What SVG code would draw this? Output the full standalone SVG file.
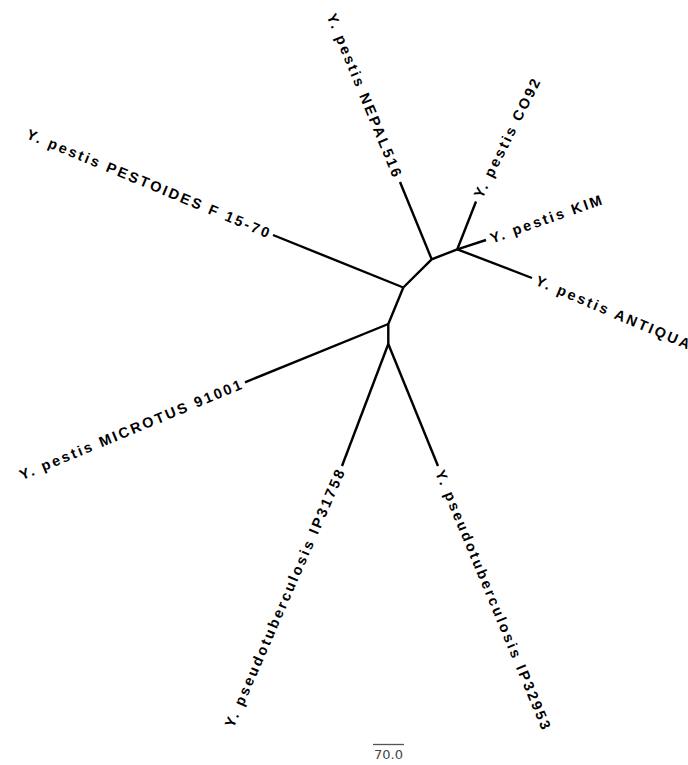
<svg xmlns="http://www.w3.org/2000/svg" width="688" height="765" viewBox="0 0 688 765">
<style>
.br{stroke:#000;stroke-width:2.4;fill:none;stroke-linecap:butt}
.lb{font-family:"Liberation Sans",Arial,sans-serif;font-weight:bold;font-size:14.5px;letter-spacing:2.4px;fill:#000}
.sc{font-family:"DejaVu Sans",sans-serif;font-size:13px;fill:#444}
</style>
<rect width="688" height="765" fill="#fff"/>
<g id="connectors">
<path class="br" d="M403.3,287.5 L431.7,259.3 L457.3,249.3"/>
<path class="br" d="M403.3,287.5 L388.3,324 L388.3,344"/>
<path class="br" d="M431.7,259.3 L400,182"/>
<path class="br" d="M457.3,249.3 L476,201.5"/>
<path class="br" d="M457.3,249.3 L486,240"/>
<path class="br" d="M457.3,249.3 L532,278"/>
<path class="br" d="M403.3,287.5 L273,235"/>
<path class="br" d="M388.3,324 L245,382.3"/>
<path class="br" d="M388.3,344 L342,466"/>
<path class="br" d="M388.3,344 L438,466"/>
</g>
<g id="leaf-nepal516"><text class="lb" text-anchor="end" dy="0.35em" transform="translate(398.5,178.3) rotate(67.7)">Y. pestis NEPAL516</text></g>
<g id="leaf-co92"><text class="lb" text-anchor="start" dy="0.35em" transform="translate(477.6,197) rotate(-63.5)">Y. pestis CO92</text></g>
<g id="leaf-kim"><text class="lb" text-anchor="start" dy="0.35em" transform="translate(490.5,238.6) rotate(-19.5)">Y. pestis KIM</text></g>
<g id="leaf-antiqua"><text class="lb" text-anchor="start" dy="0.35em" transform="translate(536.5,279.8) rotate(23)">Y. pestis ANTIQUA</text></g>
<g id="leaf-pestoides"><text class="lb" text-anchor="end" dy="0.35em" transform="translate(271,234.2) rotate(22.5)">Y. pestis PESTOIDES F 15-70</text></g>
<g id="leaf-microtus"><text class="lb" text-anchor="end" dy="0.35em" transform="translate(243,383.1) rotate(-22.5)">Y. pestis MICROTUS 91001</text></g>
<g id="leaf-ip31758"><text class="lb" text-anchor="end" dy="0.35em" transform="translate(341.2,468.2) rotate(-66.5)">Y. pseudotuberculosis IP31758</text></g>
<g id="leaf-ip32953"><text class="lb" text-anchor="start" dy="0.35em" transform="translate(439.8,470.6) rotate(67.5)">Y. pseudotuberculosis IP32953</text></g>
<g id="scale-bar">
<line x1="373" y1="744.5" x2="404" y2="744.5" stroke="#555" stroke-width="1.3"/>
<text class="sc" x="388.5" y="759" text-anchor="middle">70.0</text>
</g>
</svg>
